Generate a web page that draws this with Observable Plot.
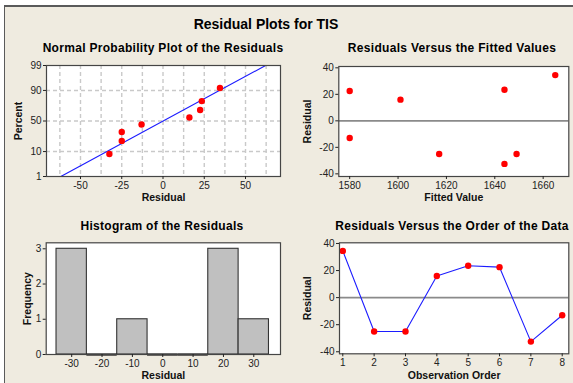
<!DOCTYPE html>
<html>
<head>
<meta charset="utf-8">
<script src="https://cdn.jsdelivr.net/npm/d3@7"></script>
<script src="https://cdn.jsdelivr.net/npm/@observablehq/plot@0.6"></script>
<style>
  body { margin: 0; background: #fff; }
  #page { position: relative; width: 573px; height: 383px; overflow: hidden; background: #fff;
          font-family: "Liberation Sans", Arial, sans-serif; }
  #frame { position: absolute; left: 4px; top: 5px; width: 620px; height: 400px;
           background: #EFEBE0; border-left: 1px solid #5a5a5a; border-top: 2px solid #5a5a5a; }
  .title { position: absolute; font-weight: bold; white-space: nowrap; color: #000;
           transform: translate(-50%, -50%); line-height: 1; }
  .main { font-size: 14px; }
  .sub { font-size: 12px; letter-spacing: 0.3px; }
  .panel { position: absolute; }
  .panel svg { overflow: visible; }
</style>
</head>
<body>
<div id="page">
  <div id="frame"></div>
  <div class="title main" style="left:266px; top:24px;">Residual Plots for TIS</div>
  <div class="title sub" style="left:163px; top:48px;">Normal Probability Plot of the Residuals</div>
  <div class="title sub" style="left:452px; top:48px;">Residuals Versus the Fitted Values</div>
  <div class="title sub" style="left:162px; top:226px;">Histogram of the Residuals</div>
  <div class="title sub" style="left:452px; top:226px;">Residuals Versus the Order of the Data</div>
  <div class="panel" id="p1" style="left:0px; top:40px;"></div>
  <div class="panel" id="p2" style="left:290px; top:40px;"></div>
  <div class="panel" id="p3" style="left:0px; top:210px;"></div>
  <div class="panel" id="p4" style="left:290px; top:210px;"></div>
</div>
<script>
// Residuals in observation order, with the fitted value of each observation
const observation = [1, 2, 3, 4, 5, 6, 7, 8];
const residual = [34.5, -25, -25, 16, 23.5, 22.5, -32.5, -13];
const fitted = [1665, 1617, 1649, 1601, 1644, 1580, 1644, 1580];

// Histogram bins (midpoints, width 10) and their counts
const binMid = [-30, -20, -10, 0, 10, 20, 30];
const binCount = [3, 0, 1, 0, 0, 3, 1];

// Tick values
const probTicks = [1, 10, 50, 90, 99];
const probGrid = [10, 50, 90];
const resTicks = [-50, -25, 0, 25, 50];
const fitTicks = [1580, 1600, 1620, 1640, 1660];
const res40Ticks = [-40, -20, 0, 20, 40];
const histXTicks = [-30, -20, -10, 0, 10, 20, 30];
const freqTicks = [0, 1, 2, 3];

// Inverse standard normal CDF (Acklam's rational approximation)
function probit(p) {
  const a = [-3.969683028665376e+01, 2.209460984245205e+02, -2.759285104469687e+02,
             1.383577518672690e+02, -3.066479806614716e+01, 2.506628277459239e+00];
  const b = [-5.447609879822406e+01, 1.615858368580409e+02, -1.556989798598866e+02,
             6.680131188771972e+01, -1.328068155288572e+01];
  const c = [-7.784894002430293e-03, -3.223964580411365e-01, -2.400758277161838e+00,
             -2.549671324505035e+00, 4.374664141464968e+00, 2.938163982698783e+00];
  const d = [7.784695709041462e-03, 3.224671290700398e-01, 2.445134137142996e+00,
             3.754408661907416e+00];
  const pl = 0.02425;
  if (p < pl) {
    const q = Math.sqrt(-2 * Math.log(p));
    return (((((c[0]*q+c[1])*q+c[2])*q+c[3])*q+c[4])*q+c[5]) / ((((d[0]*q+d[1])*q+d[2])*q+d[3])*q+1);
  }
  if (p > 1 - pl) {
    const q = Math.sqrt(-2 * Math.log(1 - p));
    return -(((((c[0]*q+c[1])*q+c[2])*q+c[3])*q+c[4])*q+c[5]) / ((((d[0]*q+d[1])*q+d[2])*q+d[3])*q+1);
  }
  const q = p - 0.5, r = q * q;
  return (((((a[0]*r+a[1])*r+a[2])*r+a[3])*r+a[4])*r+a[5])*q / (((((b[0]*r+b[1])*r+b[2])*r+b[3])*r+b[4])*r+1);
}

const obs = observation.map((o, i) => ({order: o, residual: residual[i], fitted: fitted[i]}));

// Normal probability points: sorted residuals against median-rank percentiles
const sorted = residual.slice().sort((a, b) => a - b);
const n = sorted.length;
const probPts = sorted.map((r, i) => ({residual: r, pct: 100 * (i + 1 - 0.3) / (n + 0.4)}));

// Fitted normal line through the 1% and 99% points
const mu = d3.mean(residual), sd = d3.deviation(residual);
const fitLine = [1, 99].map(p => ({pct: p, residual: mu + sd * probit(p / 100)}));

const hist = binMid.map((m, i) => ({mid: m, count: binCount[i]}));

const textColor = "#222";
const common = {
  style: {fontFamily: '"Liberation Sans", Arial, sans-serif', fontSize: "10px", color: textColor, background: "transparent", overflow: "visible"}
};
const frameStroke = "#454545";
const red = "#ff0000";
const blue = "#1c1cff";
const plain = d => String(d);
const axisOpts = {tickSize: 3, tickPadding: 2, label: null, tickFormat: plain};

function xLabel(t, dy) {
  return Plot.text([t], {text: d => d, frameAnchor: "bottom", lineAnchor: "middle", textAnchor: "middle",
    dy, fontWeight: "bold", fontSize: 10.5, fill: "#111"});
}
function yLabel(t, dx) {
  return Plot.text([t], {text: d => d, frameAnchor: "left", lineAnchor: "middle", textAnchor: "middle",
    dx, rotate: -90, fontWeight: "bold", fontSize: 10.5, fill: "#111"});
}

// Normal probability plot
const zLabel = new Map(probTicks.map(p => [probit(p / 100), String(p)]));
document.getElementById("p1").append(Plot.plot({
  ...common,
  width: 290, height: 170,
  marginLeft: 46, marginRight: 10, marginTop: 25, marginBottom: 34,
  x: {domain: [-70.6, 71.2]},
  y: {domain: [probit(0.01), probit(0.99)]},
  marks: [
    Plot.frame({fill: "white"}),
    Plot.ruleX(d3.range(-62.5, 63, 12.5), {stroke: "#c9c9c9", strokeWidth: 1.4, strokeDasharray: "4,3"}),
    Plot.ruleY(probGrid, {y: p => probit(p / 100), stroke: "#c9c9c9", strokeWidth: 1.4, strokeDasharray: "4,3"}),
    Plot.line(fitLine, {x: "residual", y: d => probit(d.pct / 100), stroke: blue, strokeWidth: 1.1}),
    Plot.dot(probPts, {x: "residual", y: d => probit(d.pct / 100), r: 3.2, fill: red}),
    Plot.frame({stroke: frameStroke, strokeWidth: 1.2}),
    Plot.axisX({...axisOpts, ticks: resTicks}),
    Plot.axisY({...axisOpts, ticks: probTicks.map(p => probit(p / 100)), tickFormat: v => zLabel.get(v)}),
    xLabel("Residual", 21),
    yLabel("Percent", -28)
  ]
}));

// Residuals versus fitted values
document.getElementById("p2").append(Plot.plot({
  ...common,
  width: 283, height: 170,
  marginLeft: 48.3, marginRight: 4.7, marginTop: 26, marginBottom: 34,
  x: {domain: [1575.5, 1670.6]},
  y: {domain: [-42, 41]},
  marks: [
    Plot.frame({fill: "white"}),
    Plot.ruleY([0], {stroke: "#8a8a8a", strokeWidth: 1.6}),
    Plot.dot(obs, {x: "fitted", y: "residual", r: 3.2, fill: red}),
    Plot.frame({stroke: frameStroke, strokeWidth: 1.2}),
    Plot.axisX({...axisOpts, ticks: fitTicks}),
    Plot.axisY({...axisOpts, ticks: res40Ticks}),
    xLabel("Fitted Value", 21),
    yLabel("Residual", -31)
  ]
}));

// Histogram of the residuals
document.getElementById("p3").append(Plot.plot({
  ...common,
  width: 290, height: 173,
  marginLeft: 45.7, marginRight: 10, marginTop: 32.3, marginBottom: 29,
  x: {domain: [-38.4, 38.8]},
  y: {domain: [0, 3.17]},
  marks: [
    Plot.frame({fill: "white"}),
    Plot.rect(hist.filter(d => d.count > 0), {x1: d => d.mid - 5, x2: d => d.mid + 5, y1: 0, y2: "count", fill: "#c0c0c0", stroke: "#333", strokeWidth: 1.1}),
    Plot.ruleY(hist.filter(d => d.count === 0), {y: "count", x1: d => d.mid - 5, x2: d => d.mid + 5, stroke: "#111", strokeWidth: 2.2}),
    Plot.frame({stroke: frameStroke, strokeWidth: 1.2}),
    Plot.axisX({...axisOpts, ticks: histXTicks}),
    Plot.axisY({...axisOpts, ticks: freqTicks}),
    xLabel("Residual", 21),
    yLabel("Frequency", -19)
  ]
}));

// Residuals versus observation order
document.getElementById("p4").append(Plot.plot({
  ...common,
  width: 283, height: 173,
  marginLeft: 49, marginRight: 4.7, marginTop: 32.3, marginBottom: 29.7,
  x: {domain: [0.895, 8.21]},
  y: {domain: [-41.5, 40.5]},
  marks: [
    Plot.frame({fill: "white"}),
    Plot.ruleY([0], {stroke: "#8a8a8a", strokeWidth: 1.6}),
    Plot.line(obs, {x: "order", y: "residual", stroke: blue, strokeWidth: 1.1}),
    Plot.dot(obs, {x: "order", y: "residual", r: 3.2, fill: red}),
    Plot.frame({stroke: frameStroke, strokeWidth: 1.2}),
    Plot.axisX({...axisOpts, ticks: observation}),
    Plot.axisY({...axisOpts, ticks: res40Ticks}),
    xLabel("Observation Order", 21.7),
    yLabel("Residual", -32)
  ]
}));
</script>
</body>
</html>
